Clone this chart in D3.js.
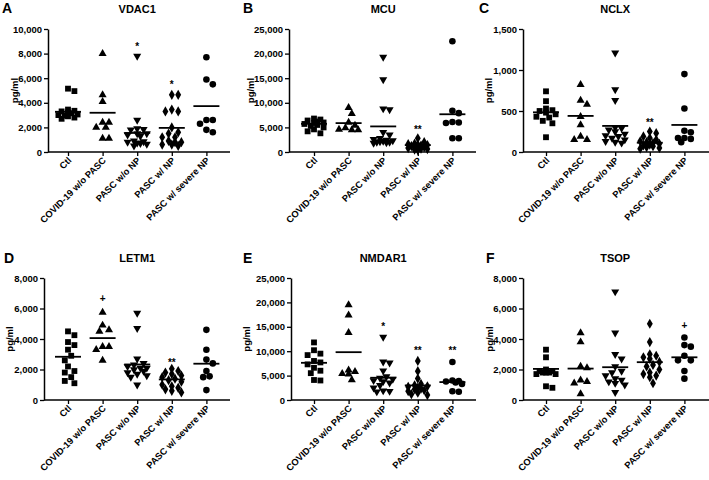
<!DOCTYPE html>
<html><head><meta charset="utf-8">
<script src="https://cdn.jsdelivr.net/npm/d3@7"></script>
<style>
body{margin:0;background:#fff;}
svg text{font-family:"Liberation Sans",Arial,sans-serif;font-weight:bold;fill:#000;}
</style></head><body>
<svg id="chart" width="709" height="480"></svg>
<script>
// ---------- DATA ----------
const categories = ["Ctl","COVID-19 w/o PASC","PASC w/o NP","PASC w/ NP","PASC w/ severe NP"];
const panelLetters = ["A","B","C","D","E","F"];
const panelTitles = ["VDAC1","MCU","NCLX","LETM1","NMDAR1","TSOP"];
const yMaxValues = [10000,25000,1500,8000,25000,8000];
const yTickSteps = [2000,5000,500,2000,5000,2000];
const yAxisLabel = "pg/ml";

const vdac1Values = [
  [5150,4950,3450,3350,3300,3200,3150,3050,3000,2950,2900,2800,2700],
  [8000,4650,4100,2400,2400,2000,2000,1100,1100],
  [7800,2600,1900,1850,1800,1500,1500,1400,1300,900,850,800,750,700,650,500],
  [4650,4650,3450,3300,3300,2000,1600,1500,1200,1200,900,800,800,600,600,500],
  [7700,5900,5500,2600,2600,2300,1800,1600]
];
const vdac1Means = [3270,3190,1550,1960,3730];

const mcuValues = [
  [6800,6600,6400,6200,6000,5900,5700,5500,5300,5000,4600,4200,3800],
  [9000,7800,6000,5400,4900,4600,4500,4500],
  [19300,14700,8800,8600,4000,3500,2800,2600,2400,2300,2200,2100,2000,2000,1900,1800],
  [2800,2000,1700,1600,1500,1400,1300,1200,1100,1000,900,800,700,600,500,400],
  [22500,8400,7900,6100,6000,5900,2800,2800]
];
const mcuMeans = [5730,5870,5200,1400,7670];

const nclxValues = [
  [740,620,530,510,500,480,460,430,420,380,350,180],
  [820,630,580,430,330,190,150,150],
  [1210,760,630,300,290,270,250,220,200,190,170,150,130,120,110],
  [250,230,190,170,150,130,120,110,100,90,80,70,60,50,40],
  [950,530,260,240,170,170,160,120]
];
const nclxMeans = [484,440,318,113,330];

const letm1Values = [
  [4500,4250,3800,3600,3300,2900,2600,2200,1900,1800,1500,1250,1100],
  [5750,4900,4600,4500,3500,3500,3300,2600],
  [5700,4700,2700,2400,2300,2200,2100,2100,2000,1900,1800,1700,1600,1500,1000],
  [2050,1900,1800,1700,1600,1500,1400,1300,1200,1000,900,800,700,600,500],
  [4600,3300,2650,2400,1900,1550,1500,650]
];
const letm1Means = [2835,4060,2330,1350,2380];

const nmdar1Values = [
  [11800,10200,9500,9200,8000,7700,7300,6600,6000,5500,4100,4000],
  [19500,17400,13800,6100,5800,5400,5300,4100],
  [12900,7800,7600,6000,4800,4500,4300,4000,3800,3500,3000,2500,1900,1800,1700],
  [8000,5900,4400,3300,3000,2800,2700,2500,2300,2200,2000,1800,1500,1200,1000],
  [7800,4000,3900,3800,3600,3300,1800,1700]
];
const nmdar1Means = [7620,9800,4560,2990,3670];

const tsopValues = [
  [3300,2800,2000,1900,1900,1800,1800,1800,1700,1700,900,800],
  [4400,3800,2200,2100,1300,1200,1100,400],
  [7100,4400,3000,2700,2200,1900,1800,1600,1400,1300,1200,1100,1000,500],
  [5000,3800,3000,2900,2800,2700,2500,2300,2200,2000,1800,1700,1600,1500,1100],
  [4100,3600,3500,2900,2600,2600,1900,1400]
];
const tsopMeans = [2040,2060,2150,2480,2800];

// significance marks
const annotationPanel = [0,0,1,2,3,3,4,4,4,5];
const annotationCategory = [2,3,3,3,1,3,2,3,4,4];
const annotationLabel = ["*","*","**","**","+","**","*","**","**","+"];
const annotationValue = [8800,5700,5000,390,6650,2600,15500,10700,10700,4900];

const panelValues = [vdac1Values,mcuValues,nclxValues,letm1Values,nmdar1Values,tsopValues];
const panelMeans = [vdac1Means,mcuMeans,nclxMeans,letm1Means,nmdar1Means,tsopMeans];

// ---------- LAYOUT ----------
const axisXs = [[48,289,523],[44,291,523]];
const tick0s = [68,314,546];
const tickStep = 34.6;
const axisEnds = [230,476,709];
const yTops = [29,278];
const yBottoms = [152,400];
const titleYs = [13,262];
const letterXs = [[2,243,479],[4,243,486]];
const letterYs = [13,263];
const ylabelXs = [[18,254,492],[13,250,493]];

const symbolTypes = [d3.symbolSquare,d3.symbolTriangle,d3.symbolTriangle,d3.symbolDiamond,d3.symbolCircle];
const symbolSizes = [34,28,28,30,34];
const symbolRot = [0,0,180,0,0];

const svg = d3.select("#chart");
const fmt = d3.format(",");

function swarm(vals, yScale, cx){
  const pts = vals.map(v=>({v, y:yScale(v)})).sort((a,b)=>a.y-b.y);
  const placed=[]; const D=6.2, step=3.2, maxOff=12;
  const cands=[0];
  for(let k=1;k*step<=maxOff;k++){cands.push(k*step,-k*step);}
  for(const p of pts){
    let best=0, bestD=-1;
    for(const off of cands){
      const md = placed.length? d3.min(placed,q=>Math.hypot(q.dx-off,q.y-p.y)) : Infinity;
      if(md>=D){best=off;bestD=Infinity;break;}
      if(md>bestD+0.8){bestD=md;best=off;}
    }
    p.dx=best;
    placed.push(p);
  }
  return pts.map(p=>({v:p.v,y:p.y,x:cx+p.dx}));
}

panelValues.forEach((vals, pi)=>{
  const row = Math.floor(pi/3), col = pi%3;
  const ax = axisXs[row][col], t0 = tick0s[col];
  const g = svg.append("g");
  const y = d3.scaleLinear().domain([0,yMaxValues[pi]]).range([yBottoms[row],yTops[row]]);
  const x = d3.scalePoint().domain(categories).range([t0, t0+4*tickStep]);

  const yAx = g.append("g").attr("transform",`translate(${ax},0)`)
    .call(d3.axisLeft(y).tickValues(d3.range(0,yMaxValues[pi]+1,yTickSteps[pi])).tickFormat(fmt).tickSize(4).tickSizeOuter(0).tickPadding(2));
  yAx.select(".domain").attr("stroke","#000").attr("stroke-width",1.5);
  yAx.selectAll(".tick line").attr("stroke","#000").attr("stroke-width",1.3);
  yAx.selectAll(".tick text").attr("fill","#000").style("font-size","9.5px");

  const xAx = g.append("g").attr("transform",`translate(0,${yBottoms[row]})`)
    .call(d3.axisBottom(x).tickSize(4).tickSizeOuter(0).tickFormat(""));
  xAx.select(".domain").remove();
  xAx.selectAll(".tick line").attr("stroke","#000").attr("stroke-width",1.3);
  g.append("line").attr("x1",ax).attr("x2",axisEnds[col]).attr("y1",yBottoms[row]).attr("y2",yBottoms[row])
    .attr("stroke","#000").attr("stroke-width",1.5);
  categories.forEach(c=>{
    g.append("text").attr("transform",`translate(${x(c)+4},${yBottoms[row]+9}) rotate(-45)`)
      .attr("text-anchor","end").style("font-size","9.3px").text(c);
  });

  g.append("text").attr("x",t0+2*tickStep).attr("y",titleYs[row]).attr("text-anchor","middle")
    .style("font-size","11px").text(panelTitles[pi]);
  g.append("text").attr("x",letterXs[row][col]).attr("y",letterYs[row])
    .style("font-size","14px").text(panelLetters[pi]);
  g.append("text").attr("transform",`translate(${ylabelXs[row][col]},${(yTops[row]+yBottoms[row])/2}) rotate(-90)`)
    .attr("text-anchor","middle").style("font-size","9.5px").text(yAxisLabel);

  vals.forEach((arr, ci)=>{
    const pts = swarm(arr, y, x(categories[ci]));
    g.selectAll(null).data(pts).enter().append("path")
      .attr("d", d3.symbol().type(symbolTypes[ci]).size(symbolSizes[ci]))
      .attr("transform", d=>`translate(${d.x},${d.y}) rotate(${symbolRot[ci]})`)
      .attr("fill","#000");
    const m = panelMeans[pi][ci];
    g.append("line").attr("x1",x(categories[ci])-13).attr("x2",x(categories[ci])+13)
      .attr("y1",y(m)).attr("y2",y(m)).attr("stroke","#000").attr("stroke-width",1.8);
  });

  annotationPanel.forEach((p, ai)=>{
    if(p!==pi) return;
    const lab = annotationLabel[ai];
    g.append("text").attr("x",x(categories[annotationCategory[ai]])).attr("y",y(annotationValue[ai]))
      .attr("dy", lab.includes("*")?"0.6em":"0.35em").attr("fill","#000")
      .attr("text-anchor","middle").style("font-size","10px").text(lab);
  });
});
</script>
</body></html>
